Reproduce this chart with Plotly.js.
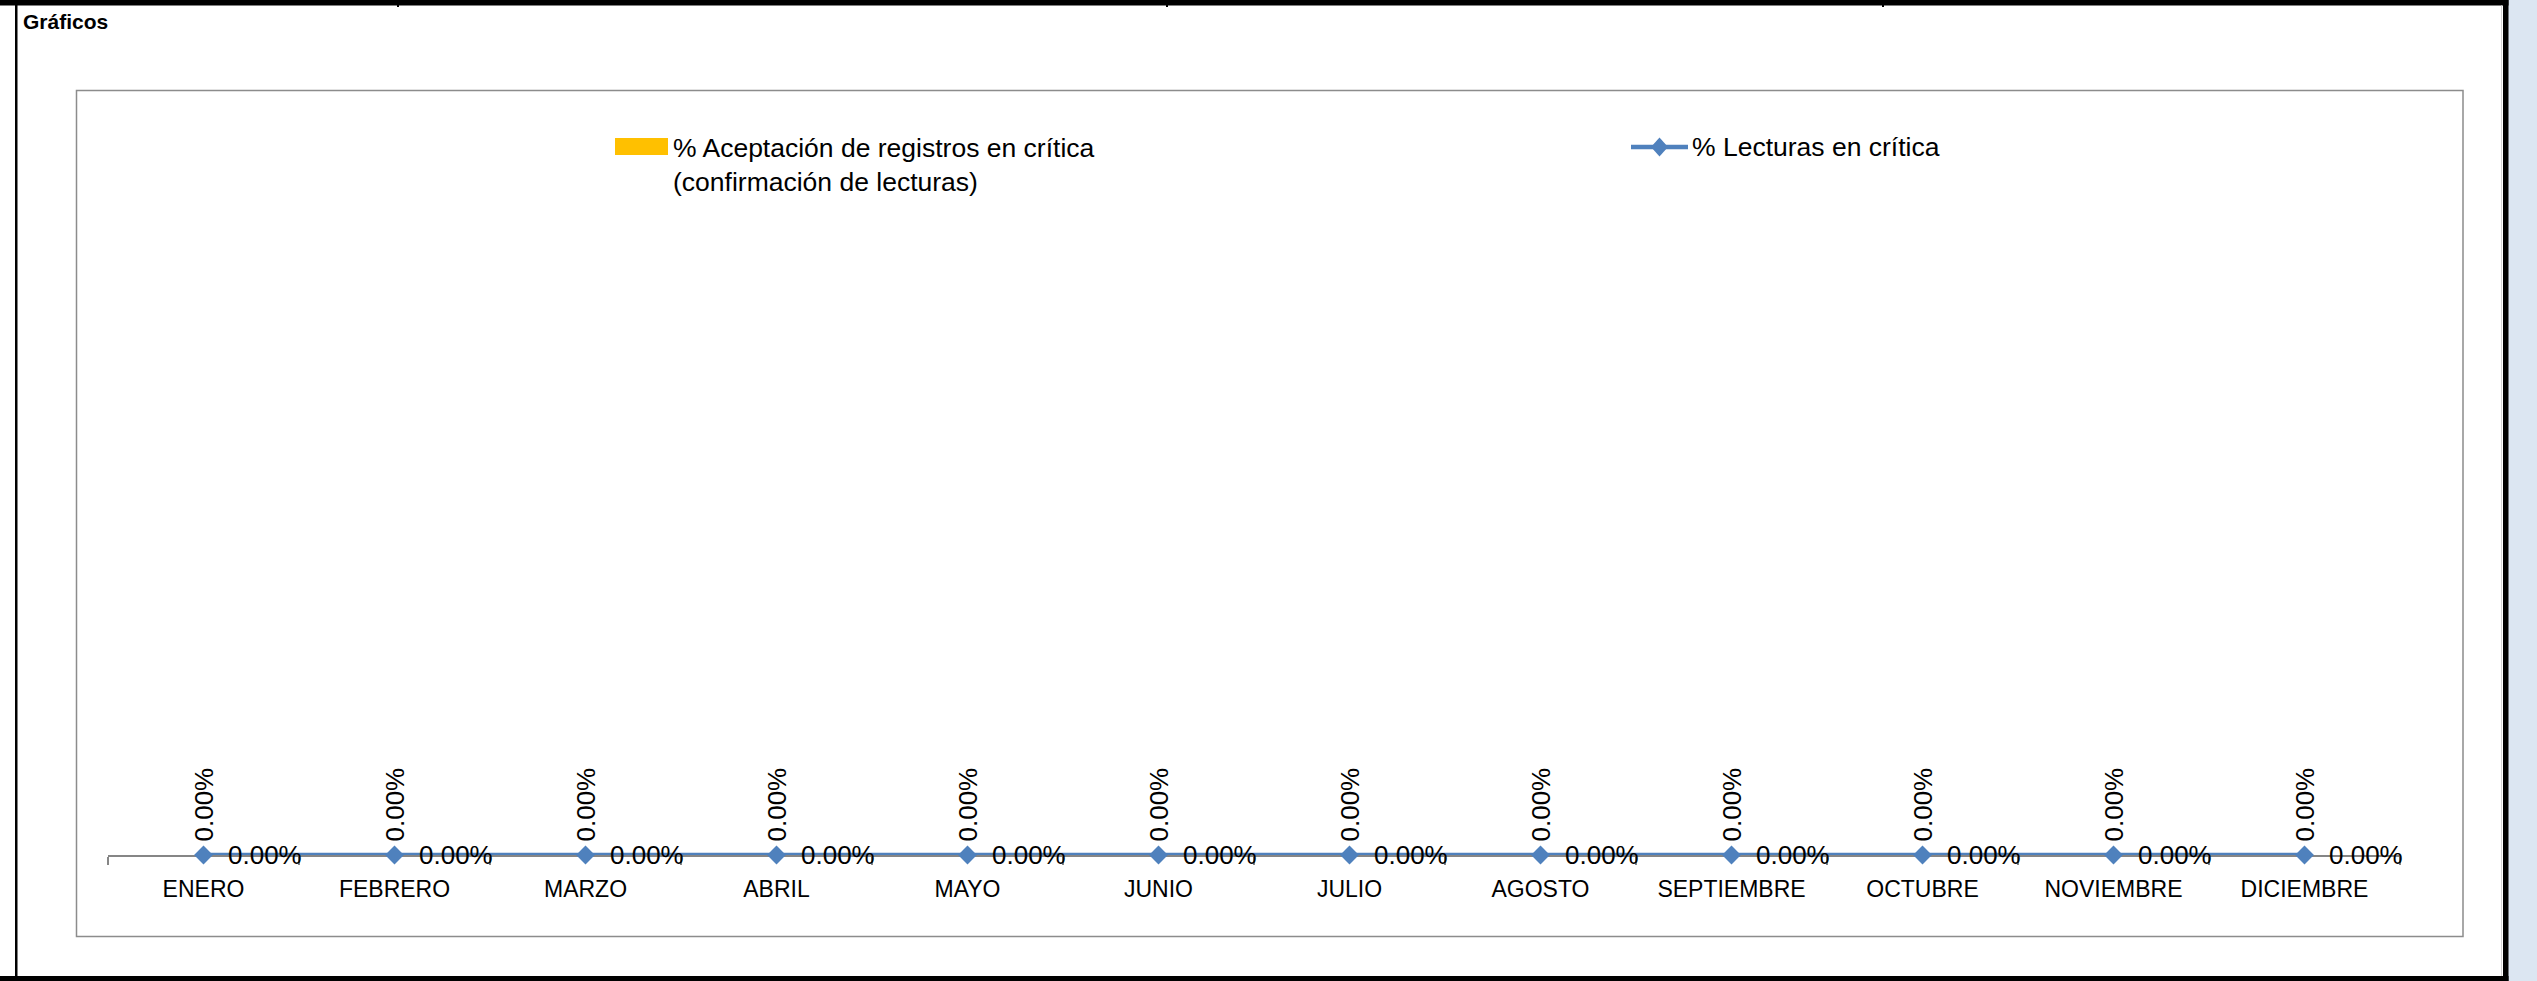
<!DOCTYPE html>
<html>
<head>
<meta charset="utf-8">
<script src="https://cdn.plot.ly/plotly-3.0.1.min.js"></script>
<style>
html,body{margin:0;padding:0;background:#ffffff;overflow:hidden;}
#chart{width:2537px;height:981px;}
</style>
</head>
<body>
<div id="chart"></div>
<script>
// ---------------- DATA ----------------
const categories = ['ENERO','FEBRERO','MARZO','ABRIL','MAYO','JUNIO','JULIO','AGOSTO','SEPTIEMBRE','OCTUBRE','NOVIEMBRE','DICIEMBRE'];
const aceptacionValues = [0,0,0,0,0,0,0,0,0,0,0,0];   // % Aceptación de registros en crítica (fraction)
const lecturasValues   = [0,0,0,0,0,0,0,0,0,0,0,0];   // % Lecturas en crítica (fraction)
const aceptacionName = '% Aceptación de registros en crítica<br>(confirmación de lecturas)';
const lecturasName = '% Lecturas en crítica';
const sheetTitle = 'Gráficos';

// ---------------- STYLE ----------------
const FONT = '"Liberation Sans", Arial, sans-serif';
const YELLOW = '#FFC000';
const BLUE = '#4F81BD';
const GRAY = '#868686';
const W = 2537, H = 981;
const PL = 108, PR = 2400, PT = 200, PB = 855;   // plot area in pixels
const px = x => (x - PL) / (PR - PL);
const py = y => (PB - y) / (PB - PT);
const fmt = v => (v * 100).toFixed(2) + '%';

function rectPx(x0, y0, x1, y1, fill, line) {
  return {type:'rect', xref:'paper', yref:'paper', x0:px(x0), x1:px(x1), y0:py(y0), y1:py(y1),
          fillcolor: fill || 'rgba(0,0,0,0)', line: line || {width:0}, layer:'above'};
}

const shapes = [
  rectPx(2508, 0, 2537, 981, '#DCE6F2'),
  rectPx(0, 0, 2508.5, 5.5, '#000000'),
  rectPx(0, 976, 2508.5, 981, '#000000'),
  rectPx(15, 0, 17.5, 981, '#000000'),
  rectPx(2503, 0, 2508.5, 981, '#000000'),
  rectPx(2501, 5.5, 2502, 976, '#D4D4D4'),
  rectPx(397, 0, 399, 7, '#000000'),
  rectPx(1166, 0, 1168, 7, '#000000'),
  rectPx(1882, 0, 1884, 7, '#000000'),
  rectPx(76.5, 90.5, 2463, 936.5, null, {color:'#8C8C8C', width:1.5}),
  // legend swatches
  rectPx(615, 138, 668, 155, YELLOW),
  {type:'line', xref:'paper', yref:'paper', x0:px(1631), x1:px(1688), y0:py(147), y1:py(147),
   line:{color:BLUE, width:4.5}, layer:'above'},
  {type:'path', xref:'paper', yref:'paper', layer:'above', fillcolor:BLUE, line:{width:0},
   path:'M'+px(1659.5)+','+py(137.5)+' L'+px(1668)+','+py(147)+' L'+px(1659.5)+','+py(156.5)+' L'+px(1651)+','+py(147)+' Z'}
];

const annotations = [
  {xref:'paper', yref:'paper', x:px(21), y:py(22), xanchor:'left', yanchor:'middle', showarrow:false,
   text:'<b>'+sheetTitle+'</b>', font:{family:FONT, size:21, color:'#000'}},
  {xref:'paper', yref:'paper', x:px(671), y:py(165), xanchor:'left', yanchor:'middle', align:'left', showarrow:false,
   text:aceptacionName, font:{family:FONT, size:26.5, color:'#000'}},
  {xref:'paper', yref:'paper', x:px(1690), y:py(147), xanchor:'left', yanchor:'middle', showarrow:false,
   text:lecturasName, font:{family:FONT, size:26.5, color:'#000'}}
];

// data labels (from data arrays, through axis scales)
categories.forEach((c, i) => {
  annotations.push({xref:'x', yref:'y', x:c, y:aceptacionValues[i], text:fmt(aceptacionValues[i]),
    textangle:-90, showarrow:false, xanchor:'center', yanchor:'bottom', yshift:11,
    font:{family:FONT, size:26, color:'#000'}});
  annotations.push({xref:'x', yref:'y', x:c, y:lecturasValues[i], text:fmt(lecturasValues[i]),
    showarrow:false, xanchor:'left', yanchor:'middle', xshift:22,
    font:{family:FONT, size:26, color:'#000'}});
});

const traces = [
  {type:'bar', name:aceptacionName, x:categories, y:aceptacionValues,
   marker:{color:YELLOW}, cliponaxis:false, showlegend:false, hoverinfo:'skip'},
  {type:'scatter', mode:'lines+markers', name:lecturasName, x:categories, y:lecturasValues,
   line:{color:BLUE, width:4.5}, marker:{symbol:'diamond', size:14.5, color:BLUE},
   cliponaxis:false, showlegend:false, hoverinfo:'skip'}
];

const layout = {
  width:W, height:H,
  margin:{l:PL, r:W-PR, t:PT, b:H-PB, pad:0},
  paper_bgcolor:'#ffffff', plot_bgcolor:'rgba(0,0,0,0)',
  showlegend:false,
  font:{family:FONT, color:'#000'},
  xaxis:{type:'category', range:[-0.5, 11.5], fixedrange:true,
    showline:true, linecolor:GRAY, linewidth:1.5,
    ticks:'outside', tickson:'boundaries', ticklen:8, tickcolor:GRAY, tickwidth:1.5,
    ticklabelstandoff:13,
    showgrid:false, zeroline:false, layer:'below traces',
    tickfont:{family:FONT, size:23, color:'#000'}},
  yaxis:{range:[0, 1], visible:false, fixedrange:true, showgrid:false, zeroline:false},
  shapes:shapes,
  annotations:annotations,
  hovermode:false
};

Plotly.newPlot('chart', traces, layout, {displayModeBar:false, staticPlot:true});
</script>
</body>
</html>
